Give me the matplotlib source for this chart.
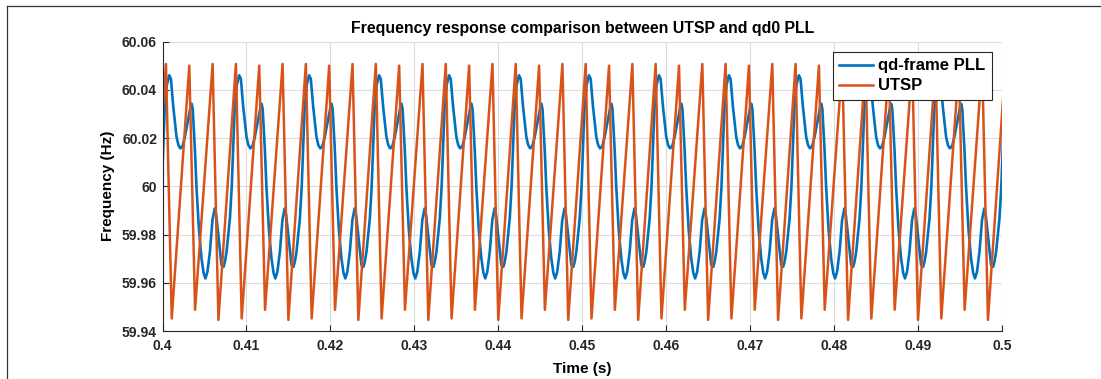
import matplotlib.pyplot as plt
import numpy as np
from matplotlib.lines import Line2D
from matplotlib.ticker import FuncFormatter

plt.rcParams['font.family'] = ['Liberation Sans', 'DejaVu Sans']
plt.rcParams['font.weight'] = 'bold'

# Both signals repeat every 1/120 s. Values read for one cycle,
# phase in ms counted from the big qd-frame PLL peak.
pll_phase = [0.00, 0.20, 0.48, 0.87, 1.10, 1.33, 1.60, 1.87, 2.38, 2.55,
             2.67, 2.80, 3.06, 3.25, 3.54, 3.85, 4.10, 4.31, 4.55, 4.85,
             5.15, 5.42, 5.60, 5.84, 6.23, 6.47, 6.65, 6.83, 7.23, 7.45,
             7.78, 8.05]
pll_freq = [60.0460, 60.0445, 60.0330, 60.0205, 60.0170, 60.0157, 60.0168,
            60.0205, 60.0300, 60.0330, 60.0342, 60.0320, 60.0150, 59.9995,
            59.9820, 59.9700, 59.9640, 59.9618, 59.9645, 59.9729, 59.9860,
            59.9908, 59.9880, 59.9800, 59.9673, 59.9666, 59.9690, 59.9729,
            59.9867, 60.0000, 60.0310, 60.0420]

utsp_phase = [-0.39, 0.30, 2.39, 3.08, 5.17, 5.86]
utsp_freq = [60.0507, 59.9452, 60.0500, 59.9488, 60.0507, 59.9446]

cycle_ms = 1000 / 120
first_peak_ms = 0.80  # first big PLL peak after t = 0.4 s
cycles = np.arange(-1, 13)

t_pll = 0.4 + (first_peak_ms + np.add.outer(cycles * cycle_ms, pll_phase).ravel()) / 1000
f_pll = np.tile(pll_freq, len(cycles))
t_utsp = 0.4 + (first_peak_ms + np.add.outer(cycles * cycle_ms, utsp_phase).ravel()) / 1000
f_utsp = np.tile(utsp_freq, len(cycles))

fig = plt.figure(figsize=(11.01, 3.79), dpi=100)
ax = fig.add_axes([0.1476, 0.1266, 0.7625, 0.7639])

ax.plot(t_pll, f_pll, color='#0072BD', lw=1.9, label='qd-frame PLL')
ax.plot(t_utsp, f_utsp, color='#D95319', lw=1.8, label='UTSP')

ax.set_xlim(0.4, 0.5)
ax.set_ylim(59.94, 60.06)
ax.set_xticks(np.arange(0.4, 0.5001, 0.01))
ax.set_yticks(np.arange(59.94, 60.0601, 0.02))
fmt = FuncFormatter(lambda v, p: '%g' % round(v, 4))
ax.xaxis.set_major_formatter(fmt)
ax.yaxis.set_major_formatter(fmt)

ax.grid(True, color='#dcdcdc', lw=0.8)
ax.set_axisbelow(True)
for s in ['top', 'right']:
    ax.spines[s].set_visible(False)
for s in ['bottom', 'left']:
    ax.spines[s].set_color('#262626')
    ax.spines[s].set_linewidth(0.8)
ax.tick_params(direction='in', length=4, width=0.8, colors='#262626',
               labelsize=10, pad=4)
ax.tick_params(axis='x', pad=6)

ax.set_title('Frequency response comparison between UTSP and qd0 PLL',
             fontsize=11.4, fontweight='bold', pad=6)
ax.set_xlabel('Time (s)', fontsize=11, fontweight='bold', labelpad=6)
ax.set_ylabel('Frequency (Hz)', fontsize=11, fontweight='bold', labelpad=5)

leg = ax.legend(loc='upper right', bbox_to_anchor=(0.9877, 0.9648),
                borderaxespad=0, fontsize=12, fancybox=False, framealpha=1,
                edgecolor='#262626', handlelength=2.0, handletextpad=0.3,
                labelspacing=0.3, borderpad=0.4)
leg.get_frame().set_linewidth(0.8)

# outer frame of the figure panel
fig.add_artist(Line2D([7 / 1101, 7 / 1101], [0, 1 - 5.5 / 379],
                      transform=fig.transFigure, color='#333333', lw=0.9))
fig.add_artist(Line2D([7 / 1101, 1], [1 - 5.5 / 379, 1 - 5.5 / 379],
                      transform=fig.transFigure, color='#333333', lw=0.9))

fig.savefig('out.png', dpi=100)
